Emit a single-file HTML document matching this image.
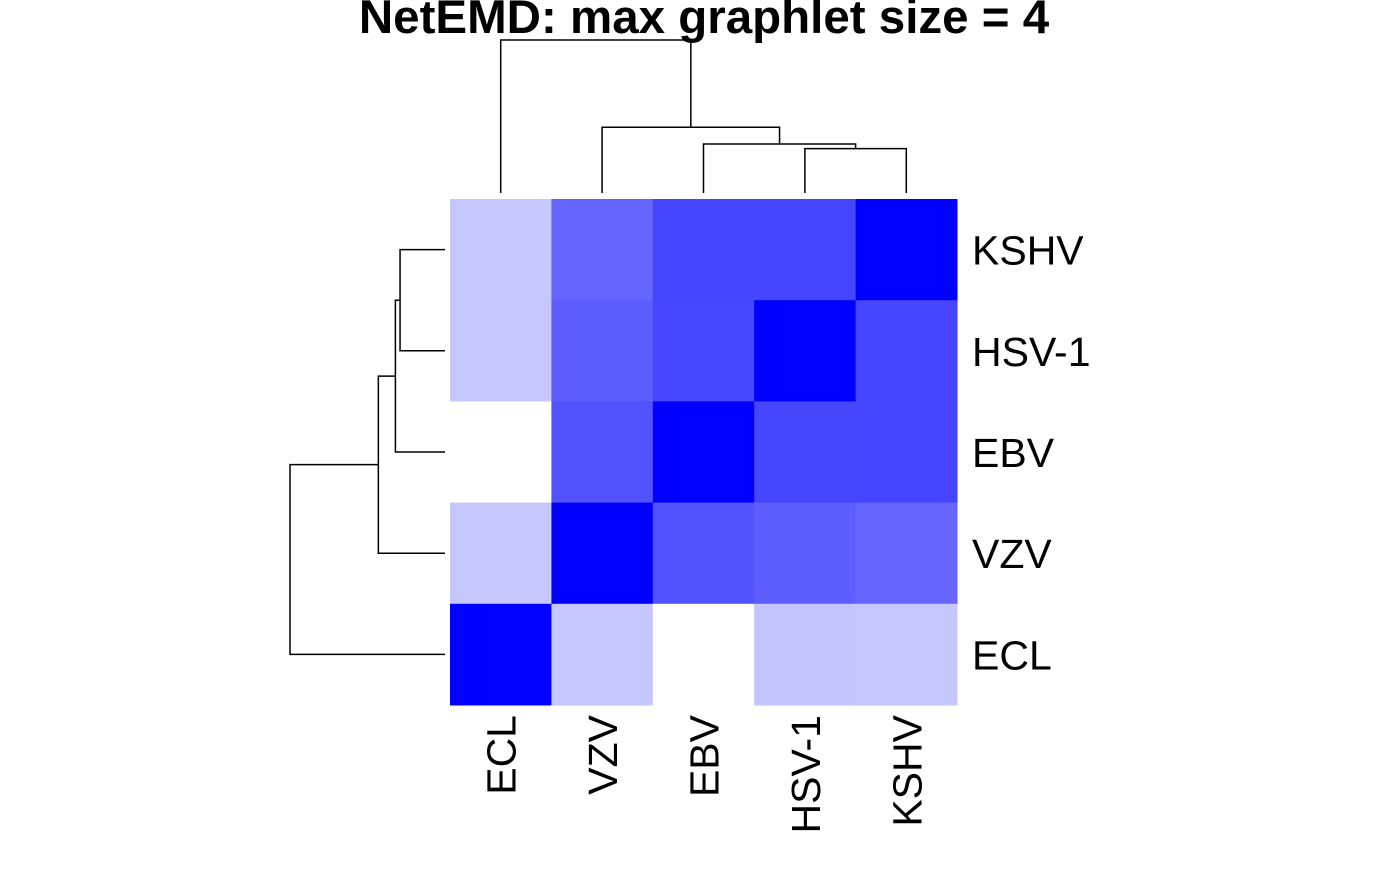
<!DOCTYPE html>
<html><head><meta charset="utf-8"><style>
body{margin:0;background:#fff;}
svg text{font-family:"Liberation Sans",Arial,sans-serif;fill:#000;}
</style></head><body>
<svg id="chart" width="1400" height="865" xmlns="http://www.w3.org/2000/svg">
<text x="704" y="33" font-size="47.5" font-weight="bold" text-anchor="middle">NetEMD: max graphlet size = 4</text>
<g id="cells"></g><g id="dendro" fill="none" stroke="#000" stroke-width="1.5"></g><g id="labels"></g>
</svg>
<script>
const colLabels=["ECL","VZV","EBV","HSV-1","KSHV"];
const rowLabels=["KSHV","HSV-1","EBV","VZV","ECL"];
const values=[
[0.78,0.40,0.27,0.27,0.00],
[0.78,0.37,0.28,0.00,0.27],
[1.00,0.32,0.00,0.275,0.27],
[0.78,0.00,0.32,0.37,0.40],
[0.00,0.78,1.00,0.77,0.78]];
// merges: [left, right, height]; leaves indexed in column order
const merges=[[3,4,0.29],[2,"m0",0.32],[1,"m1",0.43],[0,"m2",1.0]];
const x0=450,y0=199,cw=101.4,ch=101.2;
const NS="http://www.w3.org/2000/svg";
const cg=document.getElementById('cells');
values.forEach((row,i)=>row.forEach((v,j)=>{
 const r=document.createElementNS(NS,'rect');
 
 
 const c=Math.round(255*v);
 r.setAttribute('x',x0+j*cw);r.setAttribute('y',y0+i*ch);
 r.setAttribute('width',cw+0.5);r.setAttribute('height',ch+0.5);
 r.setAttribute('fill',`rgb(${c},${c},255)`);
 cg.appendChild(r);
}));
const lg=document.getElementById('labels');
rowLabels.forEach((l,i)=>{
 const t=document.createElementNS(NS,'text');
 
 
 t.setAttribute('x',972);t.setAttribute('y',y0+i*ch+ch/2+15);t.setAttribute('font-size','41');
 t.textContent=l;lg.appendChild(t);
});
colLabels.forEach((l,j)=>{
 const t=document.createElementNS(NS,'text');
 
 
 const cx=x0+j*cw+cw/2+15;
 t.setAttribute('x',cx);t.setAttribute('y',715);t.setAttribute('font-size','41');
 t.setAttribute('text-anchor','end');
 t.setAttribute('transform',`rotate(-90 ${cx} 715)`);
 t.textContent=l;lg.appendChild(t);
});
const dg=document.getElementById('dendro');
function line(d,name){const p=document.createElementNS(NS,'path');
 
 
 p.setAttribute('d',d);dg.appendChild(p);}
const topBase=193,topScale=153,leftBase=445,leftScale=155;
function draw(horizontal){
 const pos={},ht={};
 for(let k=0;k<5;k++){pos[k]=horizontal?(x0+k*cw+cw/2):(y0+(4-k)*ch+ch/2);ht[k]=0;}
 merges.forEach((m,i)=>{
  const a=m[0],b=m[1],h=m[2],id="m"+i;
  const pa=pos[a],pb=pos[b];
  if(horizontal){
   const ya=topBase-ht[a]*topScale, yb=topBase-ht[b]*topScale, y=topBase-h*topScale;
   line(`M${pa},${ya}V${y}H${pb}V${yb}`,'column-dendrogram-branch');
  }else{
   const xa=leftBase-ht[a]*leftScale, xb=leftBase-ht[b]*leftScale, x=leftBase-h*leftScale;
   line(`M${xa},${pa}H${x}V${pb}H${xb}`,'row-dendrogram-branch');
  }
  pos[id]=(pa+pb)/2;ht[id]=h;
 });
}
draw(true);draw(false);
</script>
</body></html>
